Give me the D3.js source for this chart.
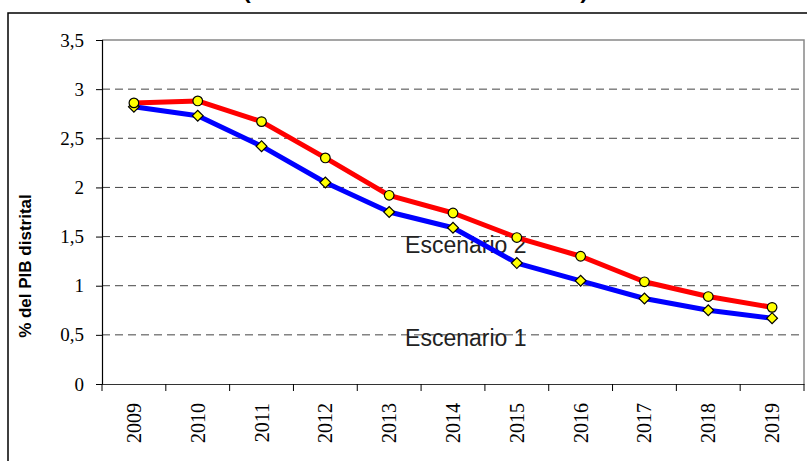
<!DOCTYPE html>
<html>
<head>
<meta charset="utf-8">
<script src="https://cdn.jsdelivr.net/npm/d3@7"></script>
<style>
  body { margin: 0; background: #fff; }
  svg { display: block; }
</style>
</head>
<body>
<svg id="chart"></svg>
<script>
const width = 807, height = 461;
const margin = {top: 40, right: 3, bottom: 77, left: 102};

// data
const years = ["2009","2010","2011","2012","2013","2014","2015","2016","2017","2018","2019"];
const escenario2 = [2.86, 2.88, 2.67, 2.30, 1.92, 1.74, 1.49, 1.30, 1.04, 0.89, 0.78];
const escenario1 = [2.82, 2.73, 2.42, 2.05, 1.75, 1.59, 1.23, 1.05, 0.87, 0.75, 0.67];
const yTicks = [0, 0.5, 1, 1.5, 2, 2.5, 3, 3.5];

const svg = d3.select("#chart")
    .attr("width", width)
    .attr("height", height);

let x = d3.scaleBand().domain(years).range([margin.left, width - margin.right]);
let y = d3.scaleLinear().domain([0, 3.5]).range([height - margin.bottom, margin.top]);

const serif = "'Liberation Serif','Times New Roman',serif";
const sans = "'Liberation Sans',Arial,sans-serif";

// outer frame (runs off the right and bottom edges)
svg.append("rect")
    .attr("x", 8).attr("y", 13)
    .attr("width", width + 20).attr("height", height + 20)
    .style("fill", "none")
    .style("stroke", "#000")
    .style("stroke-width", 1.5);

// title, cut off at the top: only the foot of the brackets shows
svg.append("text")
    .attr("x", 243).attr("y", -1)
    .attr("textLength", 345)
    .attr("lengthAdjust", "spacingAndGlyphs")
    .style("font-family", sans)
    .style("font-weight", "bold")
    .style("font-size", "20px")
    .text("(Saldo de la deuda 2009 - 2019)");

// dashed grid
svg.append("g")
    .selectAll("line")
    .data(yTicks.filter(d => d > 0 && d < 3.5))
    .join("line")
    .attr("x1", margin.left).attr("x2", width - margin.right)
    .attr("y1", d => y(d)).attr("y2", d => y(d))
    .style("stroke", "#444")
    .style("stroke-width", 1)
    .style("stroke-dasharray", "8,5");

// plot border top / right
svg.append("path")
    .attr("d", `M${margin.left},${y(3.5)}H${width - margin.right}V${y(0)}`)
    .style("fill", "none")
    .style("stroke", "#888")
    .style("stroke-width", 1.5);

// axes
let y_axis = svg.append("g")
    .attr("transform", `translate(${margin.left},0)`)
    .call(d3.axisLeft(y).tickValues(yTicks).tickSize(6).tickPadding(12)
        .tickFormat(d => String(d).replace(".", ",")));
y_axis.select(".domain").style("stroke", "#000").style("stroke-width", 1.2);
y_axis.selectAll("line").style("stroke", "#000");
y_axis.selectAll("text")
    .style("font-family", serif)
    .style("font-size", "19px")
    .style("fill", "#000");

let x_axis = svg.append("g")
    .attr("transform", `translate(0,${y(0)})`)
    .call(d3.axisBottom(x).tickSize(0).tickFormat(""));
x_axis.select(".domain").style("stroke", "#333").style("stroke-width", 1.2);

// ticks between categories
svg.append("g")
    .selectAll("line")
    .data(years.concat(["end"]))
    .join("line")
    .attr("x1", (d, i) => i < years.length ? x(d) : x.range()[1])
    .attr("x2", (d, i) => i < years.length ? x(d) : x.range()[1])
    .attr("y1", y(0)).attr("y2", y(0) + 7)
    .style("stroke", "#000");

// rotated year labels
svg.append("g")
    .selectAll("text")
    .data(years)
    .join("text")
    .attr("transform", d => `translate(${x(d) + x.bandwidth() / 2},${y(0) + 19}) rotate(-90)`)
    .attr("dy", "0.35em")
    .style("text-anchor", "end")
    .style("font-family", serif)
    .style("font-size", "20px")
    .text(d => d);

// y label
svg.append("text")
    .attr("transform", `translate(31,${y(1.2)}) rotate(-90)`)
    .style("text-anchor", "middle")
    .style("font-family", sans)
    .style("font-weight", "bold")
    .style("font-size", "17px")
    .text("% del PIB distrital");

// series labels
svg.append("text")
    .attr("x", x("2014") - 16).attr("y", y(1.33))
    .style("font-family", sans)
    .style("font-size", "23px")
    .style("fill", "#222")
    .text("Escenario 2");
svg.append("text")
    .attr("x", x("2014") - 16).attr("y", y(0.39))
    .style("font-family", sans)
    .style("font-size", "23px")
    .style("fill", "#222")
    .text("Escenario 1");

let line = d3.line()
    .x((d, i) => x(years[i]) + x.bandwidth() / 2)
    .y(d => y(d));

svg.append("path")
    .datum(escenario2)
    .attr("d", line)
    .style("fill", "none")
    .style("stroke", "#ff0000")
    .style("stroke-width", 5)
    .style("stroke-linejoin", "round");

svg.append("path")
    .datum(escenario1)
    .attr("d", line)
    .style("fill", "none")
    .style("stroke", "#0000ff")
    .style("stroke-width", 5)
    .style("stroke-linejoin", "round");

// diamond markers
svg.append("g")
    .selectAll("path")
    .data(escenario1)
    .join("path")
    .attr("d", d3.symbol(d3.symbolSquare, 58))
    .attr("transform", (d, i) => `translate(${x(years[i]) + x.bandwidth() / 2},${y(d)}) rotate(45)`)
    .style("fill", "#ffff00")
    .style("stroke", "#000")
    .style("stroke-width", 1.2);

// circle markers
svg.append("g")
    .selectAll("circle")
    .data(escenario2)
    .join("circle")
    .attr("cx", (d, i) => x(years[i]) + x.bandwidth() / 2)
    .attr("cy", d => y(d))
    .attr("r", 4.8)
    .style("fill", "#ffff00")
    .style("stroke", "#000")
    .style("stroke-width", 1.2);
</script>
</body>
</html>
